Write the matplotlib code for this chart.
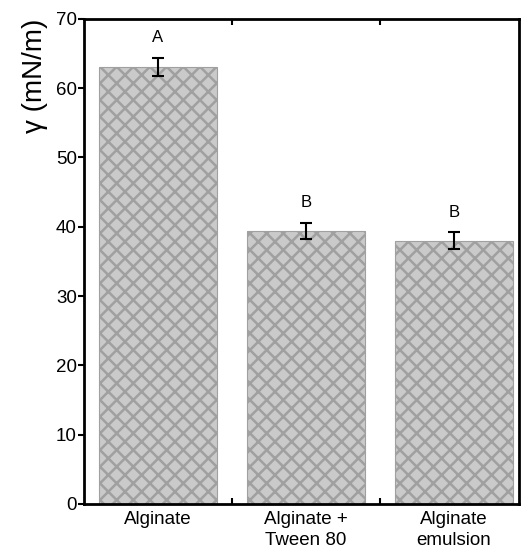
import numpy as np
import matplotlib
matplotlib.use('Agg')
import matplotlib.pyplot as plt

plt.rcParams['font.family'] = ['Liberation Sans', 'DejaVu Sans']
plt.rcParams['hatch.linewidth'] = 1.8
plt.rcParams['hatch.color'] = '#787878'

categories = ['Alginate', 'Alginate +\nTween 80', 'Alginate\nemulsion']
tension = [63.1, 39.4, 38.0]
errors = [1.3, 1.2, 1.2]
letters = ['A', 'B', 'B']

fig = plt.figure(figsize=(5.21, 5.52), dpi=100)
ax = fig.add_axes([0.161, 0.087, 0.835, 0.879])

x = np.arange(len(categories))
ax.bar(x, tension, width=0.8, color='#cacaca', edgecolor='#a0a0a0',
       hatch='xx', linewidth=0.8, zorder=2)
ax.errorbar(x, tension, yerr=errors, fmt='none', ecolor='black',
            elinewidth=1.5, capsize=4, capthick=1.5, zorder=3)
for xi, v, e, lab in zip(x, tension, errors, letters):
    ax.text(xi, v + e + 2.9, lab, ha='center', va='center', fontsize=12)

ax.set_xlim(-0.5, 2.44)
ax.set_ylim(0, 70)
ax.set_yticks(np.arange(0, 71, 10))
ax.set_xticks(x)
ax.set_xticklabels(categories, fontsize=13.5, linespacing=1.3)
ax.set_xticks([0.5, 1.5], minor=True)
ax.tick_params(axis='x', which='major', length=0, pad=5)
ax.tick_params(axis='x', which='minor', direction='in', length=4, width=1.5,
               top=True, bottom=True)
ax.tick_params(axis='y', which='major', direction='out', length=4, width=1.5,
               labelsize=13.5, pad=1)
ax.set_ylabel('γ (mN/m)', fontsize=20, labelpad=6, loc='top')
for s in ax.spines.values():
    s.set_linewidth(2)

fig.savefig('out.png', dpi=100)
